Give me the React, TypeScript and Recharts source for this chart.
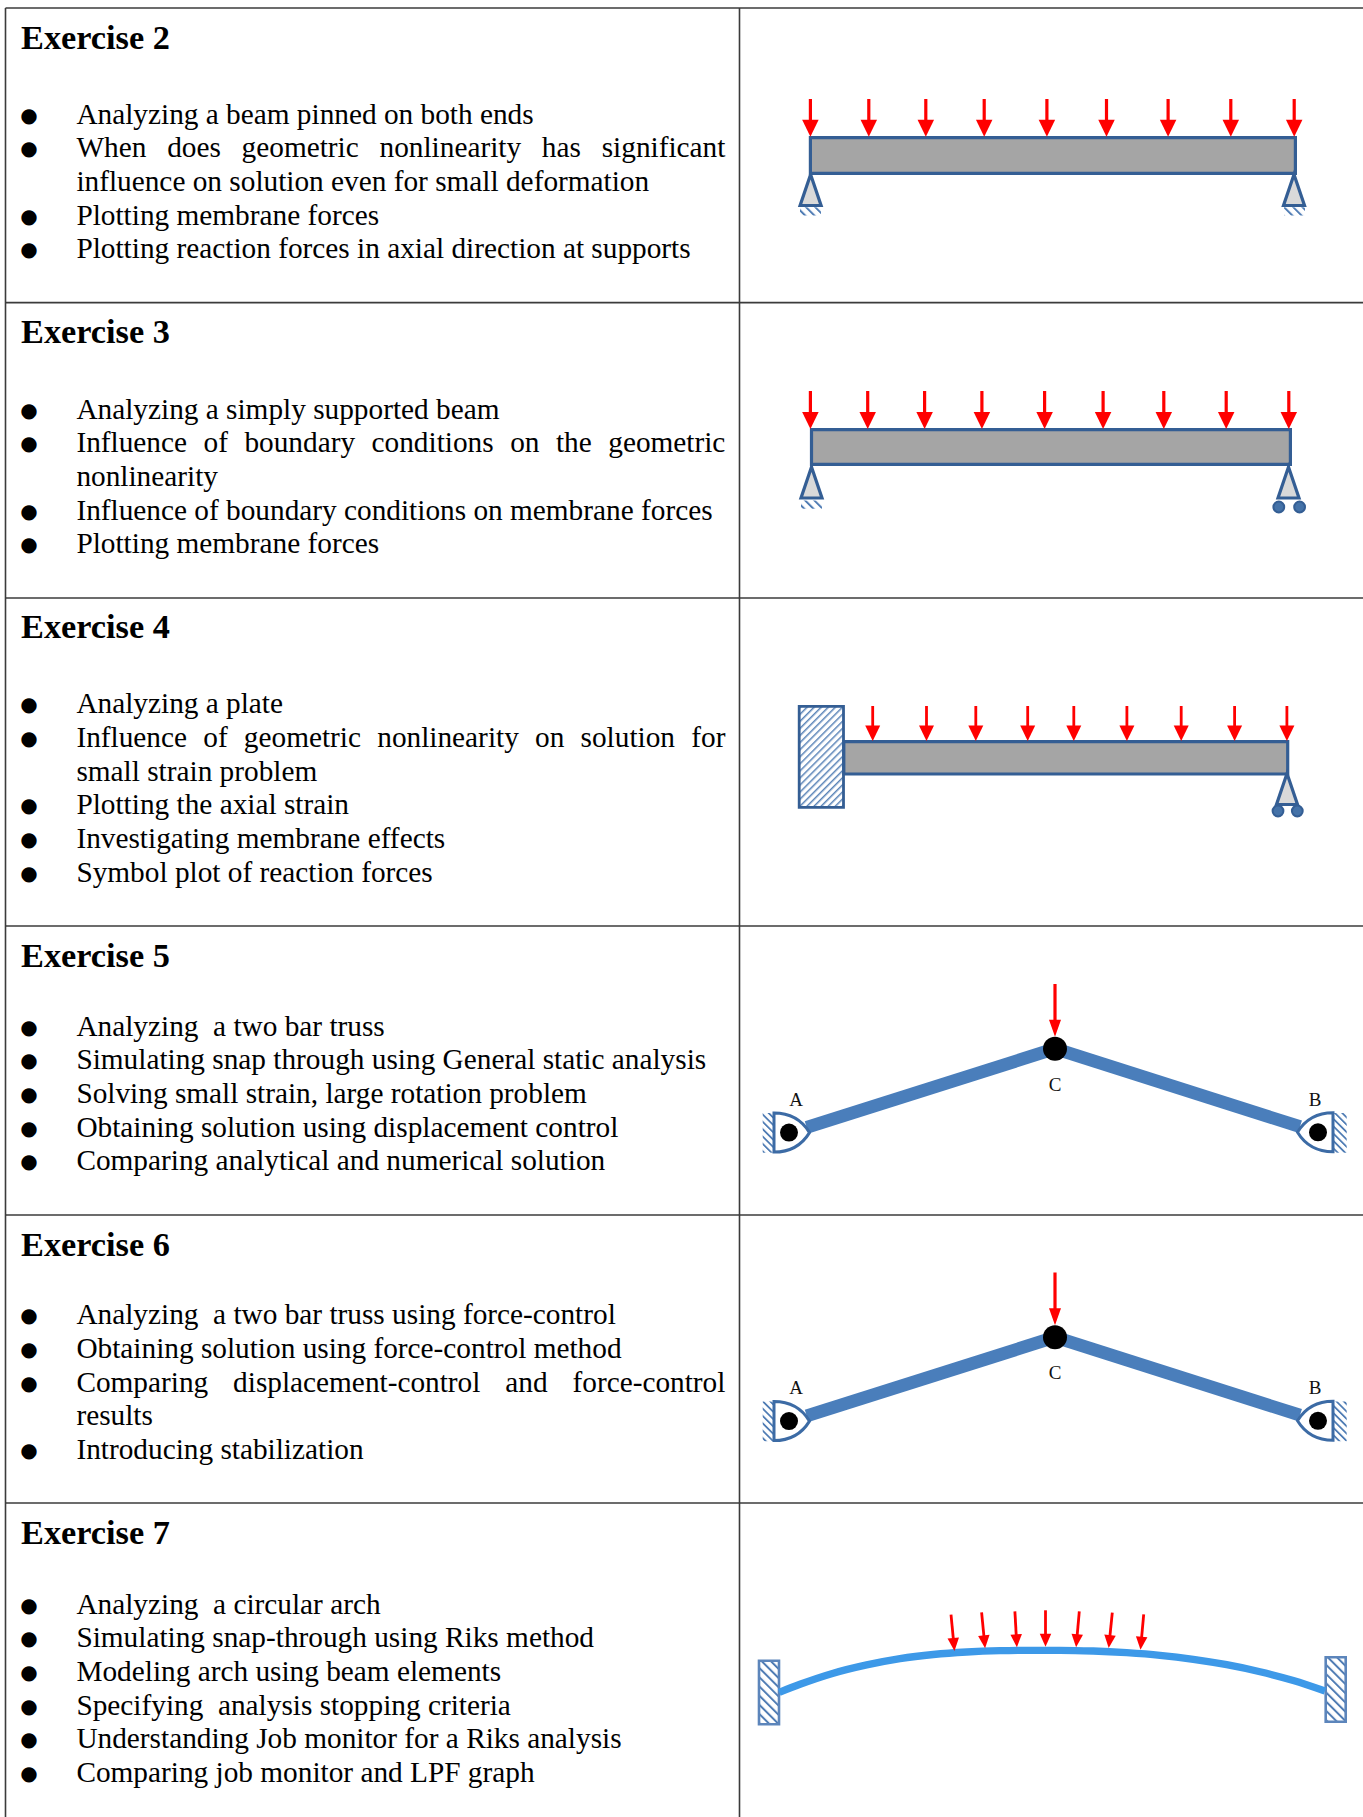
import React from 'react'
import { ComposedChart, Line, Scatter, ReferenceArea, ReferenceDot, XAxis, YAxis } from 'recharts'

const W = 1363
const H = 1817

// table text
const headings = ['Exercise 2', 'Exercise 3', 'Exercise 4', 'Exercise 5', 'Exercise 6', 'Exercise 7']
const headingY = [37, 331, 626, 955, 1244, 1532]
const firstLineY = [113.8, 408.8, 703.3, 1025.8, 1314.3, 1603.7]
const bullets = [
  [
    { t: 'Analyzing a beam pinned on both ends' },
    { t: 'When does geometric nonlinearity has significant', j: true },
    { t: 'influence on solution even for small deformation', cont: true },
    { t: 'Plotting membrane forces' },
    { t: 'Plotting reaction forces in axial direction at supports' },
  ],
  [
    { t: 'Analyzing a simply supported beam' },
    { t: 'Influence of boundary conditions on the geometric', j: true },
    { t: 'nonlinearity', cont: true },
    { t: 'Influence of boundary conditions on membrane forces' },
    { t: 'Plotting membrane forces' },
  ],
  [
    { t: 'Analyzing a plate' },
    { t: 'Influence of geometric nonlinearity on solution for', j: true },
    { t: 'small strain problem', cont: true },
    { t: 'Plotting the axial strain' },
    { t: 'Investigating membrane effects' },
    { t: 'Symbol plot of reaction forces' },
  ],
  [
    { t: 'Analyzing  a two bar truss' },
    { t: 'Simulating snap through using General static analysis' },
    { t: 'Solving small strain, large rotation problem' },
    { t: 'Obtaining solution using displacement control' },
    { t: 'Comparing analytical and numerical solution' },
  ],
  [
    { t: 'Analyzing  a two bar truss using force-control' },
    { t: 'Obtaining solution using force-control method' },
    { t: 'Comparing displacement-control and force-control', j: true },
    { t: 'results', cont: true },
    { t: 'Introducing stabilization' },
  ],
  [
    { t: 'Analyzing  a circular arch' },
    { t: 'Simulating snap-through using Riks method' },
    { t: 'Modeling arch using beam elements' },
    { t: 'Specifying  analysis stopping criteria' },
    { t: 'Understanding Job monitor for a Riks analysis' },
    { t: 'Comparing job monitor and LPF graph' },
  ],
]

// table rules
const rowLines = [8, 302.6, 598, 926, 1215, 1503]
const columnLines = [5.5, 739.5]

// beams: arrow x positions, tail y, tip y
const beam2Arrows = [810.4, 868.8, 925.8, 984.2, 1046.9, 1106.5, 1168.1, 1230.8, 1294.2]
const beam3Arrows = [810.4, 867.7, 924.6, 981.9, 1044.6, 1103.1, 1163.8, 1226.2, 1288.8]
const beam4Arrows = [872.7, 926.5, 975.8, 1027.7, 1073.8, 1126.9, 1181.2, 1234.6, 1286.9]
const beamBoxes = [
  { x1: 810.4, x2: 1295.4, y1: 137.7, y2: 173.3 },
  { x1: 811.5, x2: 1290.4, y1: 429.7, y2: 464.3 },
  { x1: 843.8, x2: 1287.7, y1: 741.7, y2: 774 },
]
const pinApexes = [
  { x: 810.6, y: 174.5 },
  { x: 1294, y: 174.5 },
  { x: 811.5, y: 467 },
  { x: 1288.5, y: 467 },
  { x: 1287, y: 773.5 },
]
const groundHatches = [
  { x1: 800, x2: 821, y1: 207.3, y2: 215.5 },
  { x1: 1284, x2: 1305, y1: 207.3, y2: 215.5 },
  { x1: 801, x2: 822, y1: 500.5, y2: 508.7 },
]
const rollers = [
  { x: 1278.8, y: 507 },
  { x: 1299.6, y: 507 },
  { x: 1278, y: 811 },
  { x: 1297.3, y: 811 },
]
const clampedWall = { x1: 799.2, x2: 843.5, y1: 706.3, y2: 807.3 }

// two bar trusses, the second sits one row lower
const trussOffsets = [0, 288.5]
const trussNode = { x: 1055, y: 1048.7 }
const trussPins = [
  { x: 789, y: 1132.6, side: 1 },
  { x: 1318, y: 1132.3, side: -1 },
]
const trussBarEnds = [
  { x: 806.7, y: 1127.3 },
  { x: 1300, y: 1126.7 },
]
const trussWalls = [
  { x1: 762.7, x2: 774, y1: 1113, y2: 1152.7 },
  { x1: 1334, x2: 1346.7, y1: 1113, y2: 1152.7 },
]
const trussLabels = [
  { x: 796, y: 1099, t: 'A' },
  { x: 1055, y: 1084, t: 'C' },
  { x: 1315, y: 1099, t: 'B' },
]
const trussArrow = { x: 1055, tail: 984, tip: 1036.7 }

// arch
const archX = [779.3, 800, 833.3, 866.7, 900, 933.3, 966.7, 1000, 1033.3, 1060, 1093.3, 1126.7, 1160, 1193.3, 1226.7, 1260, 1293.3, 1325]
const archY = [1692.3, 1684.3, 1673.2, 1664.9, 1658.6, 1654.5, 1652, 1650.7, 1650.3, 1650.3, 1651, 1652.7, 1655.3, 1659.3, 1664.7, 1671.7, 1680.5, 1691]
const archTailX = [951, 981.6, 1014.9, 1045.5, 1079.3, 1112.3, 1143.7]
const archTailY = [1614.7, 1612.3, 1611.3, 1610.3, 1611.3, 1612.7, 1614.3]
const archTipX = [954.5, 985.1, 1016.9, 1045.5, 1076.1, 1108.7, 1140.5]
const archTipY = [1651, 1648.3, 1647.3, 1646.7, 1647.3, 1648, 1649.7]
const archWalls = [
  { x1: 759, x2: 779, y1: 1660.7, y2: 1724.3 },
  { x1: 1325.7, x2: 1345.7, y1: 1657.3, y2: 1721.7 },
]

const straightArrows = (xs: number[], tail: number, tip: number) =>
  xs.map((x) => ({ x, y: tip, tailX: x, tailY: tail }))

const arrowGroups = [
  { arrows: straightArrows(beam2Arrows, 99, 136.7), w: 16.5, l: 17, sw: 3.2 },
  { arrows: straightArrows(beam3Arrows, 391, 429), w: 16.5, l: 17, sw: 3.2 },
  { arrows: straightArrows(beam4Arrows, 706, 741), w: 15, l: 15.5, sw: 2.8 },
  ...trussOffsets.map((o) => ({
    arrows: straightArrows([trussArrow.x], trussArrow.tail + o, trussArrow.tip + o),
    w: 12,
    l: 17,
    sw: 3.2,
  })),
  {
    arrows: archTipX.map((x, i) => ({ x, y: archTipY[i], tailX: archTailX[i], tailY: archTailY[i] })),
    w: 11.5,
    l: 13,
    sw: 2.8,
  },
]

const NAVY = '#345e94'
const RED = '#ff0000'

const arrowHead = (w: number, l: number) => (p: any) => {
  const { cx, cy, payload } = p
  const a = (Math.atan2(-(payload.x - payload.tailX), payload.y - payload.tailY) * 180) / Math.PI
  return (
    <polygon
      transform={`translate(${cx},${cy}) rotate(${a})`}
      points={`0,0 ${-w / 2},${-l} ${w / 2},${-l}`}
      fill={RED}
    />
  )
}

const PinShape = (p: any) => {
  const { cx, cy } = p
  return (
    <polygon
      points={`${cx},${cy} ${cx - 10.5},${cy + 31} ${cx + 10.5},${cy + 31}`}
      fill="#d9d9d9"
      stroke={NAVY}
      strokeWidth={3.2}
    />
  )
}

const RollerShape = (p: any) => (
  <circle cx={p.cx} cy={p.cy} r={5.4} fill="#4472a8" stroke={NAVY} strokeWidth={2} />
)

const EyeShape = (p: any) => {
  const { cx, cy, payload } = p
  return (
    <path
      transform={`translate(${cx},${cy}) scale(${payload.side},1)`}
      d="M-15,-19.5 C4,-19.5 15,-9 20.5,0 C15,9 4,19.5 -15,19.5 Z"
      fill="#fff"
      stroke="#3c6ba5"
      strokeWidth={3}
    />
  )
}

const PinDot = (p: any) => <circle cx={p.cx} cy={p.cy} r={9} fill="#000" />
const NodeDot = (p: any) => <circle cx={p.cx} cy={p.cy} r={12} fill="#000" />

const seg = (x1: number, y1: number, x2: number, y2: number) => [
  { x: x1, y: y1 },
  { x: x2, y: y2 },
]

const Poly = (key: string, data: any[], stroke: string, width: number, type: any = 'linear') => (
  <Line
    key={key}
    data={data}
    dataKey="y"
    type={type}
    stroke={stroke}
    strokeWidth={width}
    dot={false}
    activeDot={false}
    legendType="none"
    isAnimationActive={false}
  />
)

const Diagram = () => (
  <ComposedChart width={W} height={H} margin={{ top: 0, right: 0, bottom: 0, left: 0 }}>
    <defs>
      <pattern id="hatchFwd" width="5" height="5" patternUnits="userSpaceOnUse" patternTransform="rotate(45)">
        <line x1="0" y1="0" x2="0" y2="5" stroke="#5a84b8" strokeWidth="3" />
      </pattern>
      <pattern id="hatchBack" width="5.2" height="5.2" patternUnits="userSpaceOnUse" patternTransform="rotate(-45)">
        <line x1="0" y1="0" x2="0" y2="5.2" stroke="#4f7cb4" strokeWidth="3.6" />
      </pattern>
      <pattern id="hatchWide" width="6.5" height="6.5" patternUnits="userSpaceOnUse" patternTransform="rotate(-45)">
        <line x1="0" y1="0" x2="0" y2="6.5" stroke="#4f7cb4" strokeWidth="4" />
      </pattern>
    </defs>
    <XAxis dataKey="x" type="number" domain={[0, W]} hide allowDataOverflow />
    <YAxis dataKey="y" type="number" domain={[0, H]} reversed hide allowDataOverflow />

    {/* table rules */}
    {rowLines.map((y, i) => Poly(`row${i}`, seg(columnLines[0], y, W, y), '#3b3b3b', 1.6))}
    {columnLines.map((x, i) => Poly(`col${i}`, seg(x, rowLines[0], x, H), '#3b3b3b', 1.6))}

    {/* beams */}
    {beamBoxes.map((b, i) => (
      <ReferenceArea key={`beam${i}`} {...b} fill="#a5a5a5" fillOpacity={1} stroke={NAVY} strokeWidth={3.2} ifOverflow="visible" />
    ))}
    {groundHatches.map((b, i) => (
      <ReferenceArea key={`gr${i}`} {...b} fill="url(#hatchWide)" fillOpacity={1} stroke="none" ifOverflow="visible" />
    ))}
    <ReferenceArea {...clampedWall} fill="url(#hatchFwd)" fillOpacity={1} stroke={NAVY} strokeWidth={2.8} ifOverflow="visible" />
    <Scatter data={pinApexes} dataKey="y" shape={PinShape} isAnimationActive={false} />
    <Scatter data={rollers} dataKey="y" shape={RollerShape} isAnimationActive={false} />

    {/* trusses */}
    {trussOffsets.map((o, k) => (
      <React.Fragment key={`truss${k}`}>
        {trussBarEnds.map((e, i) =>
          Poly(`bar${k}${i}`, seg(e.x, e.y + o, trussNode.x, trussNode.y + o), '#4a7ebb', 12.8)
        )}
        {trussWalls.map((b, i) => (
          <ReferenceArea key={`tw${k}${i}`} x1={b.x1} x2={b.x2} y1={b.y1 + o} y2={b.y2 + o} fill="url(#hatchBack)" fillOpacity={1} stroke="none" ifOverflow="visible" />
        ))}
        <Scatter data={trussPins.map((p) => ({ ...p, y: p.y + o }))} dataKey="y" shape={EyeShape} isAnimationActive={false} />
        <Scatter data={trussPins.map((p) => ({ ...p, y: p.y + o }))} dataKey="y" shape={PinDot} isAnimationActive={false} />
        <Scatter data={[{ x: trussNode.x, y: trussNode.y + o }]} dataKey="y" shape={NodeDot} isAnimationActive={false} />
        {trussLabels.map((l) => (
          <ReferenceDot
            key={`lab${k}${l.t}`}
            x={l.x}
            y={l.y + o}
            r={0}
            ifOverflow="visible"
            label={{ value: l.t, position: 'center', fill: '#111', fontSize: 19, fontFamily: 'Liberation Serif' }}
          />
        ))}
      </React.Fragment>
    ))}

    {/* arch */}
    {Poly('arch', archX.map((x, i) => ({ x, y: archY[i] })), '#3d99e8', 7.3, 'monotone')}
    {archWalls.map((b, i) => (
      <ReferenceArea key={`aw${i}`} {...b} fill="url(#hatchWide)" fillOpacity={1} stroke="#5c85bb" strokeWidth={2.6} ifOverflow="visible" />
    ))}

    {/* load arrows */}
    {arrowGroups.map((g, gi) => (
      <React.Fragment key={`ag${gi}`}>
        {g.arrows.map((a, i) =>
          Poly(`sh${gi}-${i}`, seg(a.tailX, a.tailY, a.tailX + (a.x - a.tailX) * 0.8, a.tailY + (a.y - a.tailY) * 0.8), RED, g.sw)
        )}
        <Scatter data={g.arrows} dataKey="y" shape={arrowHead(g.w, g.l)} isAnimationActive={false} />
      </React.Fragment>
    ))}
  </ComposedChart>
)

const lineStyle: React.CSSProperties = {
  position: 'absolute',
  left: 76.4,
  width: 649,
  height: 34,
  lineHeight: '34px',
  fontSize: 29.3,
  whiteSpace: 'pre',
}

const App = () => (
  <div style={{ position: 'absolute', left: 0, top: 0, width: W, height: H, overflow: 'hidden', background: '#fff', color: '#000', fontFamily: '"Liberation Serif", serif' }}>
    <div style={{ position: 'absolute', left: 0, top: 0 }}>
      <Diagram />
    </div>
    {headings.map((h, i) => (
      <div key={h} style={{ position: 'absolute', left: 21, top: headingY[i] - 20, height: 40, lineHeight: '40px', fontSize: 34.3, fontWeight: 700 }}>
        {h}
      </div>
    ))}
    {bullets.map((group, i) =>
      group.map((l: any, j) => {
        const top = firstLineY[i] + j * 33.65 - 17
        return (
          <React.Fragment key={`${i}-${j}`}>
            {!l.cont && (
              <div style={{ position: 'absolute', left: 19, width: 20, top: top + 1, height: 34, lineHeight: '34px', fontSize: 20, textAlign: 'center', fontFamily: '"DejaVu Sans"' }}>
                ●
              </div>
            )}
            <div style={{ ...lineStyle, top, ...(l.j ? { whiteSpace: 'normal', textAlign: 'justify', textAlignLast: 'justify' } : {}) }}>
              {l.t}
            </div>
          </React.Fragment>
        )
      })
    )}
  </div>
)

export default App
